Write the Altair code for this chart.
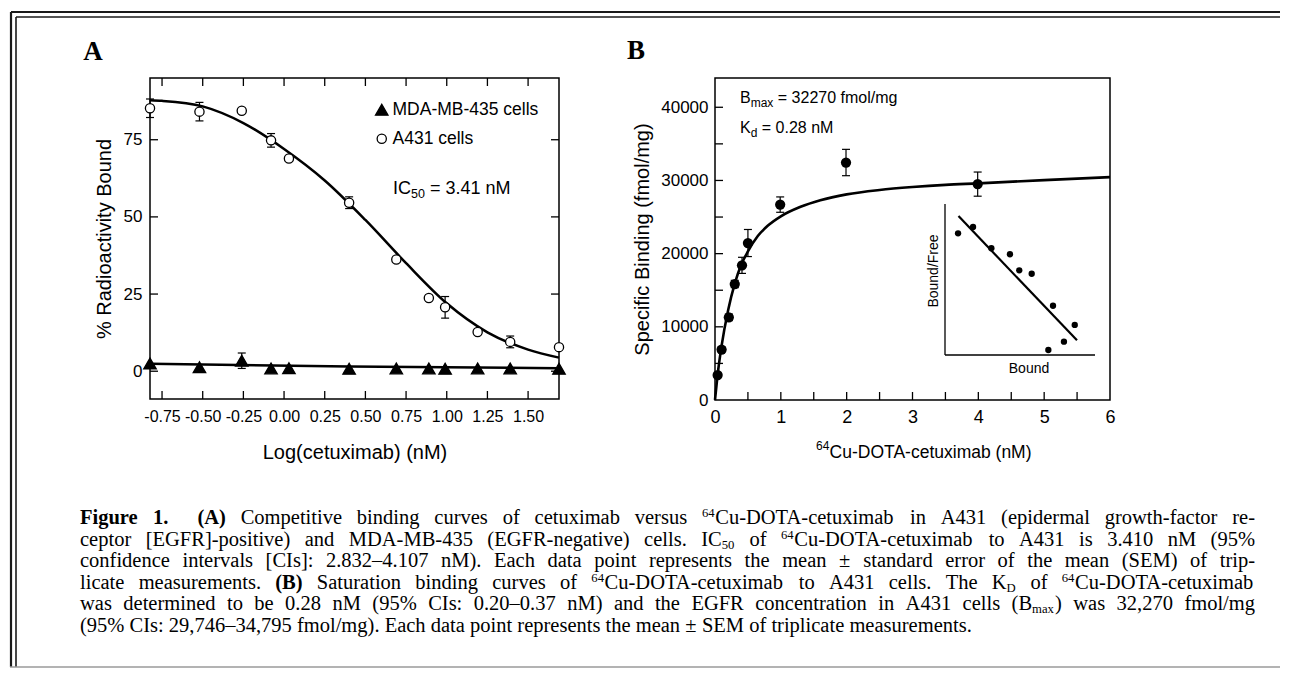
import re
import altair as alt
import pandas as pd

# ---------------- Panel A : competitive binding ----------------
a_logc = [-0.824, -0.52, -0.26, -0.08, 0.03, 0.40, 0.69, 0.89, 0.99, 1.19, 1.39, 1.69]
a431_bound = [85.2, 84.1, 84.4, 74.8, 68.9, 54.6, 36.2, 23.7, 20.7, 12.7, 9.5, 7.8]
a431_sem = [3.0, 3.0, 0.0, 2.2, 0.0, 1.9, 0.0, 0.0, 3.5, 0.0, 1.9, 0.0]
mda_bound = [2.5, 1.3, 3.4, 0.9, 1.0, 0.8, 0.9, 0.9, 0.8, 0.9, 0.9, 0.8]
mda_sem = [0.0, 0.0, 2.5, 0.0, 0.0, 0.0, 0.0, 0.0, 0.0, 0.0, 0.0, 0.0]
a431_fit_x = [-0.824, -0.75, -0.5, -0.25, 0.0, 0.25, 0.5, 0.75, 1.0, 1.25, 1.5, 1.69]
a431_fit_y = [87.8, 87.6, 85.8, 80.4, 72.0, 61.8, 49.0, 35.0, 22.0, 12.6, 7.0, 4.4]
mda_fit_x = [-0.824, 0.40, 1.69]
mda_fit_y = [2.4, 1.5, 1.0]
a_xticks = [-0.75, -0.5, -0.25, 0.0, 0.25, 0.5, 0.75, 1.0, 1.25, 1.5]
a_yticks = [0, 25, 50, 75]
series_names = ["MDA-MB-435 cells", "A431 cells"]

# ---------------- Panel B : saturation binding ----------------
b_conc = [0.04, 0.10, 0.21, 0.30, 0.41, 0.50, 0.99, 1.99, 3.99]
b_bound = [3400, 6900, 11300, 15850, 18400, 21450, 26700, 32450, 29500]
b_sem = [300, 350, 450, 500, 1100, 1850, 1050, 1800, 1650]
b_fit_x = [0, 0.05, 0.1, 0.2, 0.3, 0.4, 0.5, 0.65, 0.8, 1.0, 1.3, 1.6, 2.0, 2.5, 3.0, 3.5, 4.0, 5.0, 6.0]
b_fit_y = [0, 4200, 7400, 12300, 15900, 18500, 20300, 22400, 23800, 25100, 26400,
           27300, 28100, 28700, 29100, 29400, 29600, 30050, 30450]
b_xticks = [0.5, 1.0, 1.5, 2.0, 2.5, 3.0, 3.5, 4.0, 4.5, 5.0, 5.5]
b_yticks = [5000, 10000, 15000, 20000, 25000, 30000, 35000, 40000]
b_xlabels = [0, 1, 2, 3, 4, 5, 6]
b_ylabels = [0, 10000, 20000, 30000, 40000]

# inset (Scatchard) - arbitrary units
scat_bound = [0.87, 1.87, 3.09, 4.33, 4.95, 5.78, 7.20, 8.65, 7.93, 6.89]
scat_bf = [8.06, 8.48, 7.07, 6.67, 5.61, 5.38, 3.26, 1.99, 0.88, 0.33]
scat_line_x = [0.9, 8.8]
scat_line_y = [9.2, 0.97]

# ---------------- caption ----------------
cap_lines = [
    "*Figure *1.| *(A) Competitive binding curves of cetuximab versus ^{64}Cu-DOTA-cetuximab in A431 (epidermal growth-factor re-",
    "ceptor [EGFR]-positive) and MDA-MB-435 (EGFR-negative) cells. IC_{50} of ^{64}Cu-DOTA-cetuximab to A431 is 3.410 nM (95%",
    "confidence intervals [CIs]: 2.832\u20134.107 nM). Each data point represents the mean \u00b1 standard error of the mean (SEM) of trip-",
    "licate measurements. *(B) Saturation binding curves of ^{64}Cu-DOTA-cetuximab to A431 cells. The K_{D} of ^{64}Cu-DOTA-cetuximab",
    "was determined to be 0.28 nM (95% CIs: 0.20\u20130.37 nM) and the EGFR concentration in A431 cells (B_{max}) was 32,270 fmol/mg",
    "(95% CIs: 29,746\u201334,795 fmol/mg). Each data point represents the mean \u00b1 SEM of triplicate measurements.",
]

# =====================================================================
SANS = "Liberation Sans"
SERIF = "Liberation Serif"
W_A, H_A = 409, 321
W_B, H_B = 395, 322
TICK = 8
FRAME = alt.ViewBackground(stroke="black", strokeWidth=1.5)


def label(text, x, y, size=17, align="left", baseline="middle", font=SANS,
          weight="normal", angle=0):
    return alt.Chart(pd.DataFrame({"t": [text]})).mark_text(
        align=align, baseline=baseline, font=font, fontSize=size,
        fontWeight=weight, color="black", angle=angle
    ).encode(x=alt.value(x), y=alt.value(y), text="t:N")


# ---------------- Panel A ----------------
xA = alt.Scale(domain=[-0.824, 1.69], nice=False, zero=False)
yA = alt.Scale(domain=[-9, 95], nice=False, zero=False)
axA_x = alt.Axis(
    title="Log(cetuximab) (nM)", values=a_xticks,
    labelExpr="datum.value < 0 ? '-' + format(-datum.value, '.2f') : format(datum.value, '.2f')",
    ticks=False, domain=False, grid=False, labelFontSize=16, labelPadding=9,
    labelFlush=False, labelOverlap=False, titleFontSize=20, titleFontWeight="normal",
    titlePadding=18, labelColor="black", titleColor="black", labelFont=SANS, titleFont=SANS)
axA_y = alt.Axis(
    title="% Radioactivity Bound", values=a_yticks, format="d",
    ticks=False, domain=False, grid=False, labelFontSize=17, labelPadding=8,
    labelFlush=False, labelOverlap=False, titleFontSize=20, titleFontWeight="normal",
    titlePadding=9, labelColor="black", titleColor="black", labelFont=SANS, titleFont=SANS)


def XA(f="logc"):
    return alt.X(f"{f}:Q", scale=xA, axis=axA_x)


def YA(f="pct"):
    return alt.Y(f"{f}:Q", scale=yA, axis=axA_y)


n = len(a_logc)
dfA = pd.DataFrame({
    "logc": a_logc + a_logc,
    "pct": a431_bound + mda_bound,
    "sem": a431_sem + mda_sem,
    "series": ["A431 cells"] * n + ["MDA-MB-435 cells"] * n,
})
dfA["lo"] = dfA["pct"] - dfA["sem"]
dfA["hi"] = dfA["pct"] + dfA["sem"]
dfA_err = dfA[dfA["sem"] > 0]
dfA_fit = pd.DataFrame({
    "logc": a431_fit_x + mda_fit_x,
    "pct": a431_fit_y + mda_fit_y,
    "series": ["A431 cells"] * len(a431_fit_x) + ["MDA-MB-435 cells"] * len(mda_fit_x),
})

legA = alt.Legend(title=None, orient="none", legendX=223, legendY=23, direction="vertical",
                  labelFontSize=17.5, labelFont=SANS, labelColor="black",
                  symbolStrokeWidth=1.3, rowPadding=10,
                  labelOffset=2, padding=0, symbolOpacity=1)

fitA = alt.Chart(dfA_fit).mark_line(color="black", strokeWidth=2.5, interpolate="monotone").encode(
    x=XA(), y=YA(), detail="series:N")
errA = alt.Chart(dfA_err).mark_rule(color="black", strokeWidth=1.2).encode(
    x=XA(), y=YA("lo"), y2="hi:Q")
capA_hi = alt.Chart(dfA_err).mark_rule(color="black", strokeWidth=1.2, xOffset=-4, x2Offset=4).encode(
    x=XA(), x2="logc:Q", y=YA("hi"))
capA_lo = alt.Chart(dfA_err).mark_rule(color="black", strokeWidth=1.2, xOffset=-4, x2Offset=4).encode(
    x=XA(), x2="logc:Q", y=YA("lo"))
ptsA = alt.Chart(dfA).mark_point(filled=True, strokeWidth=1.3, opacity=1).encode(
    x=XA(), y=YA(),
    shape=alt.Shape("series:N", scale=alt.Scale(domain=series_names, range=["triangle-up", "circle"]), legend=legA),
    fill=alt.Fill("series:N", scale=alt.Scale(domain=series_names, range=["black", "white"]), legend=legA),
    stroke=alt.Stroke("series:N", scale=alt.Scale(domain=series_names, range=["black", "black"]), legend=legA),
    size=alt.Size("series:N", scale=alt.Scale(domain=series_names, range=[155, 85]), legend=legA),
)
dfAxt = pd.DataFrame({"logc": a_xticks})
dfAyt = pd.DataFrame({"pct": a_yticks})
tkA_top = alt.Chart(dfAxt).mark_rule(color="black", strokeWidth=1.3).encode(
    x=XA(), y=alt.value(0), y2=alt.value(TICK))
tkA_bot = alt.Chart(dfAxt).mark_rule(color="black", strokeWidth=1.3).encode(
    x=XA(), y=alt.value(H_A - TICK), y2=alt.value(H_A))
tkA_left = alt.Chart(dfAyt).mark_rule(color="black", strokeWidth=1.3).encode(
    y=YA(), x=alt.value(0), x2=alt.value(TICK))
tkA_right = alt.Chart(dfAyt).mark_rule(color="black", strokeWidth=1.3).encode(
    y=YA(), x=alt.value(W_A - TICK), x2=alt.value(W_A))

ic_x, ic_y, ic_fs = 243, 111, 18
annA = [
    label("IC", ic_x, ic_y, size=ic_fs),
    label("50", ic_x + 1.0 * ic_fs, ic_y + 5, size=12.5),
    label("= 3.41 nM", ic_x + 1.0 * ic_fs + 13.9 + 0.278 * ic_fs, ic_y, size=ic_fs),
]

panelA = alt.layer(fitA, errA, capA_hi, capA_lo, ptsA, tkA_top, tkA_bot, tkA_left, tkA_right,
                   *annA).properties(width=W_A, height=H_A, view=FRAME)

# ---------------- Panel B ----------------
xB = alt.Scale(domain=[0, 6], nice=False, zero=False)
yB = alt.Scale(domain=[0, 44000], nice=False, zero=False)
axB_x = alt.Axis(
    title=None, values=b_xlabels, format="d",
    ticks=False, domain=False, grid=False, labelFontSize=18, labelPadding=8,
    labelFlush=False, labelOverlap=False, labelColor="black", labelFont=SANS)
axB_y = alt.Axis(
    title="Specific Binding (fmol/mg)", values=b_ylabels, format="d",
    ticks=False, domain=False, grid=False, labelFontSize=17, labelPadding=7,
    labelFlush=False, labelOverlap=False, titleFontSize=20, titleFontWeight="normal",
    titlePadding=8, labelColor="black", titleColor="black", labelFont=SANS, titleFont=SANS)


def XB(f="conc"):
    return alt.X(f"{f}:Q", scale=xB, axis=axB_x)


def YB(f="bound"):
    return alt.Y(f"{f}:Q", scale=yB, axis=axB_y)


dfB = pd.DataFrame({"conc": b_conc, "bound": b_bound, "sem": b_sem})
dfB["lo"] = dfB["bound"] - dfB["sem"]
dfB["hi"] = dfB["bound"] + dfB["sem"]
dfB_fit = pd.DataFrame({"conc": b_fit_x, "bound": b_fit_y})

fitB = alt.Chart(dfB_fit).mark_line(color="black", strokeWidth=2.6, interpolate="monotone").encode(
    x=XB(), y=YB())
errB = alt.Chart(dfB).mark_rule(color="black", strokeWidth=1.2).encode(x=XB(), y=YB("lo"), y2="hi:Q")
capB_hi = alt.Chart(dfB).mark_rule(color="black", strokeWidth=1.2, xOffset=-4, x2Offset=4).encode(
    x=XB(), x2="conc:Q", y=YB("hi"))
capB_lo = alt.Chart(dfB).mark_rule(color="black", strokeWidth=1.2, xOffset=-4, x2Offset=4).encode(
    x=XB(), x2="conc:Q", y=YB("lo"))
ptsB = alt.Chart(dfB).mark_point(shape="circle", filled=True, color="black", size=105, opacity=1).encode(
    x=XB(), y=YB())
tkB_bot = alt.Chart(pd.DataFrame({"conc": b_xticks})).mark_rule(color="black", strokeWidth=1.3).encode(
    x=XB(), y=alt.value(H_B - TICK), y2=alt.value(H_B))
tkB_left = alt.Chart(pd.DataFrame({"bound": b_yticks})).mark_rule(color="black", strokeWidth=1.3).encode(
    y=YB(), x=alt.value(0), x2=alt.value(TICK))

bx, by1, by2 = 25, 20, 50
annB = [
    label("B", bx, by1, size=16),
    label("max", bx + 10.7, by1 + 5, size=12),
    label("= 32270 fmol/mg", bx + 10.7 + 22.7 + 4.4, by1, size=16),
    label("K", bx, by2, size=16),
    label("d", bx + 10.7, by2 + 5, size=12),
    label("= 0.28 nM", bx + 10.7 + 6.7 + 4.4, by2, size=16),
]
# x-axis title with a real superscript
tx0, ty = 101, 375
titleB = [
    label("64", tx0, ty - 7, size=12),
    label("Cu-DOTA-cetuximab (nM)", tx0 + 13.6, ty, size=17.5),
]

B_main = alt.layer(fitB, errB, capB_hi, capB_lo, ptsB, tkB_bot, tkB_left, *annB, *titleB)

# inset Scatchard plot, drawn through its own scales placed inside panel B
xI = alt.Scale(domain=[0, 10], range=[230, 380], nice=False, zero=False)
yI = alt.Scale(domain=[0, 10], range=[277, 126], nice=False, zero=False)
dfI = pd.DataFrame({"b": scat_bound, "bf": scat_bf})
dfIl = pd.DataFrame({"b": scat_line_x, "bf": scat_line_y})
dfIax = pd.DataFrame({"b": [0, 0], "bf": [0, 0], "b2": [10, 0], "bf2": [0, 10]})
XI = alt.X("b:Q", scale=xI, axis=None)
YI = alt.Y("bf:Q", scale=yI, axis=None)
inAx = alt.Chart(dfIax).mark_rule(color="black", strokeWidth=1.3).encode(x=XI, y=YI, x2="b2:Q", y2="bf2:Q")
inLine = alt.Chart(dfIl).mark_line(color="black", strokeWidth=2.2).encode(x=XI, y=YI)
inPts = alt.Chart(dfI).mark_point(shape="circle", filled=True, color="black", size=40, opacity=1).encode(
    x=XI, y=YI)
inLabels = [
    label("Bound", 314, 291, size=14, align="center"),
    label("Bound/Free", 219, 193, size=14, align="center", angle=270),
]
B_inset = alt.layer(inAx, inLine, inPts, *inLabels)

panelB = alt.layer(B_main, B_inset).resolve_scale(x="independent", y="independent").properties(
    width=W_B, height=H_B, view=FRAME)

# ---------------- caption, frame, panel letters ----------------
ORG_X, ORG_Y = 148, 480          # page position of this block's origin
CAP_LEFT, CAP_RIGHT = 78, 1253   # justified text block (page px)
LINE0, LINE_STEP = 523, 21.5     # first baseline, line pitch (page px)

TR = {' ': 250, '!': 333, '%': 833, '(': 333, ')': 333, ',': 250, '-': 333, '.': 250, '/': 278,
      ':': 278, ';': 278, '=': 564, '[': 333, ']': 333, '\u2013': 500, '\u00b1': 564,
      'A': 722, 'B': 667, 'C': 667, 'D': 722, 'E': 611, 'F': 556, 'G': 722, 'H': 722, 'I': 333,
      'J': 389, 'K': 722, 'L': 611, 'M': 889, 'N': 722, 'O': 722, 'P': 556, 'Q': 722, 'R': 667,
      'S': 556, 'T': 611, 'U': 722, 'V': 722, 'W': 944, 'X': 722, 'Y': 722, 'Z': 611,
      'a': 444, 'b': 500, 'c': 444, 'd': 500, 'e': 444, 'f': 333, 'g': 500, 'h': 500, 'i': 278,
      'j': 278, 'k': 500, 'l': 278, 'm': 778, 'n': 500, 'o': 500, 'p': 500, 'q': 500, 'r': 333,
      's': 389, 't': 278, 'u': 500, 'v': 500, 'w': 722, 'x': 500, 'y': 500, 'z': 444}
for d in "0123456789":
    TR[d] = 500
TB = {' ': 250, '(': 333, ')': 333, '.': 250, 'A': 722, 'B': 667, 'F': 611, 'i': 278, 'g': 500,
      'u': 556, 'r': 444, 'e': 444, '1': 500}

TOK = re.compile(r"\^\{([^}]*)\}|_\{([^}]*)\}|([^^_]+)")


def runs_of(word):
    bold = word.startswith("*")
    if bold:
        word = word[1:]
    out = []
    for m in TOK.finditer(word):
        if m.group(1) is not None:
            out.append((m.group(1), "sup"))
        elif m.group(2) is not None:
            out.append((m.group(2), "sub"))
        else:
            out.append((m.group(3), "b" if bold else "n"))
    return out


def em(text, kind):
    tbl = TB if kind == "b" else TR
    w = sum(tbl.get(c, TR.get(c, 500)) for c in text) / 1000.0
    return w * (0.65 if kind in ("sup", "sub") else 1.0)


parsed_lines = []
for line in cap_lines:
    words = []
    for w in line.split(" "):
        extra = 0.0
        if w.endswith("|"):
            w, extra = w[:-1], 0.7
        r = runs_of(w)
        words.append((r, sum(em(t, k) for t, k in r), extra))
    parsed_lines.append(words)

natural = [sum(w[1] + w[2] for w in ws) + 0.25 * (len(ws) - 1) for ws in parsed_lines]
FS = min(20.5, 0.975 * (CAP_RIGHT - CAP_LEFT) / max(natural[:-1]))

rows = []
for li, ws in enumerate(parsed_lines):
    base = LINE0 + LINE_STEP * li
    if li < len(parsed_lines) - 1:
        gap = 0.25 * FS + ((CAP_RIGHT - CAP_LEFT) - natural[li] * FS) / (len(ws) - 1)
    else:
        gap = 0.25 * FS
    x = CAP_LEFT
    for r, wem, extra in ws:
        cx = x
        for t, k in r:
            size = FS * (0.62 if k in ("sup", "sub") else 1.0)
            dy = -0.34 * FS if k == "sup" else (0.15 * FS if k == "sub" else 0.0)
            rows.append({"x": cx - ORG_X, "y": base + dy - ORG_Y, "text": t, "fs": size,
                         "bold": 1 if k == "b" else 0})
            cx += em(t, k) * FS
        x += (wem + extra) * FS + gap
capdf = pd.DataFrame(rows)

PX = alt.X("x:Q", scale=None, axis=None)
PY = alt.Y("y:Q", scale=None, axis=None)
cap_norm = alt.Chart(capdf[capdf["bold"] == 0]).mark_text(
    align="left", baseline="alphabetic", font=SERIF, color="black").encode(
    x=PX, y=PY, text="text:N", size=alt.Size("fs:Q", scale=None, legend=None))
cap_bold = alt.Chart(capdf[capdf["bold"] == 1]).mark_text(
    align="left", baseline="alphabetic", font=SERIF, fontWeight="bold", color="black").encode(
    x=PX, y=PY, text="text:N", size=alt.Size("fs:Q", scale=None, legend=None))

letters = pd.DataFrame({"x": [91 - ORG_X, 634 - ORG_X], "y": [51 - ORG_Y, 50 - ORG_Y], "text": ["A", "B"]})
let_layer = alt.Chart(letters).mark_text(
    align="center", baseline="middle", font=SERIF, fontWeight="bold", fontSize=27, color="black").encode(
    x=PX, y=PY, text="text:N")

# double rule frame of the figure (page px, converted to this block's origin)
R_END = 1278
frame = pd.DataFrame({
    "x": [9, 14, 9, 14, 8],
    "y": [11, 16, 11, 16, 666],
    "x2": [9, 14, R_END, R_END, R_END],
    "y2": [666, 666, 11, 16, 666],
    "c": ["#1a1a1a", "#1a1a1a", "#1a1a1a", "#1a1a1a", "#9a9a9a"],
    "sw": [2.2, 1.6, 2.2, 1.6, 1.5],
})
for col in ("x", "x2"):
    frame[col] = frame[col] - ORG_X
for col in ("y", "y2"):
    frame[col] = frame[col] - ORG_Y
frame_layer = alt.Chart(frame).mark_rule().encode(
    x=PX, y=PY, x2="x2:Q", y2="y2:Q",
    color=alt.Color("c:N", scale=None, legend=None),
    strokeWidth=alt.StrokeWidth("sw:Q", scale=None, legend=None))
pin = alt.Chart(pd.DataFrame({"x": [8 - ORG_X], "y": [8 - ORG_Y], "x2": [8 - ORG_X], "y2": [9 - ORG_Y]})).mark_rule(
    opacity=0, strokeWidth=0.5).encode(x=PX, y=PY, x2="x2:Q", y2="y2:Q")

caption = alt.layer(pin, frame_layer, let_layer, cap_norm, cap_bold).properties(width=W_A, height=140)

chart = alt.concat(
    panelA, panelB, caption, columns=2, bounds="flush",
    spacing={"row": ORG_Y - 77 - max(H_A, H_B), "column": 713 - 148 - W_A},
).properties(padding=0).configure(font=SANS).configure_view(stroke="transparent")

chart.save("out.html", embed_options={"renderer": "svg", "actions": False})
